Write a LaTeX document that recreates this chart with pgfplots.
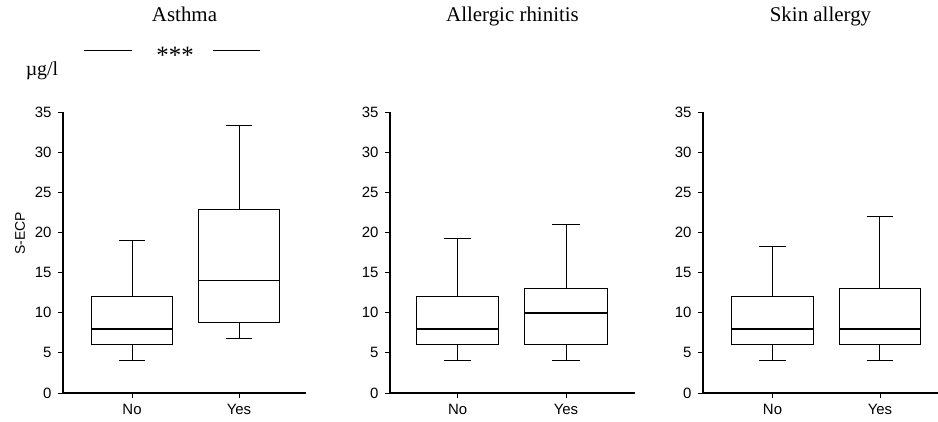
\documentclass[border=0pt]{standalone}
\usepackage{fontspec}
\setmainfont{Liberation Serif}
\setsansfont{Liberation Sans}
\usepackage{pgfplots}
\pgfplotsset{compat=1.18}
\usepgfplotslibrary{statistics}

\pgfplotsset{
  panel/.style={
    scale only axis, height=281bp, ymin=0, ymax=35, ytick={0,5,...,35},
    xtick={0,1}, xticklabels={No,Yes},
    axis x line*=bottom, axis y line*=left,
    axis line style={line width=1.1bp, -},
    tick align=outside, major tick length=5bp,
    tick style={line width=0.9bp, black},
    tick label style={font=\sffamily\fontsize{15}{15}\selectfont},
    yticklabel style={xshift=-3bp},
    xticklabel style={yshift=-3bp},
    /pgf/number format/assume math mode=true,
    clip=false,
    anchor=south west,
    title style={anchor=base, at={(0.5,1)}, yshift=85bp, font=\rmfamily\fontsize{21}{21}\selectfont},
    boxplot/draw direction=y,
    boxplot/box extend=0.76,
    boxplot/whisker extend=0.25,
  },
  bx/.style={black, solid, line width=1bp, mark=none,
    boxplot/every median/.style={line width=1.8bp}},
}

\begin{document}
\begin{tikzpicture}
\useasboundingbox (0,0) rectangle (938bp,422bp);

% Panel 1: Asthma
\begin{axis}[panel, at={(63bp,29bp)}, width=243bp, xmin=-0.645, xmax=1.626, title={Asthma}]
\addplot[bx, boxplot prepared={draw position=0, lower whisker=4, lower quartile=6, median=8, upper quartile=12, upper whisker=19}] coordinates {};
\addplot[bx, boxplot prepared={draw position=1, lower whisker=6.8, lower quartile=8.8, median=14.0, upper quartile=22.8, upper whisker=33.3}] coordinates {};
\draw[line width=1bp] (axis cs:-0.449,42.63) -- (axis cs:0,42.63);
\draw[line width=1bp] (axis cs:0.757,42.63) -- (axis cs:1.196,42.63);
\node[anchor=base, font=\rmfamily\fontsize{25}{25}\selectfont] at (axis cs:0.402,41.0) {***};
\node[anchor=base, font=\rmfamily\fontsize{20}{20}\selectfont] at (axis cs:-0.841,39.5) {µg/l};
\node[rotate=90, font=\sffamily\fontsize{14}{14}\selectfont] at (axis cs:-1.047,19.9) {S-ECP};
\end{axis}

% Panel 2: Allergic rhinitis
\begin{axis}[panel, at={(390bp,29bp)}, width=245bp, xmin=-0.625, xmax=1.637, title={Allergic rhinitis}]
\addplot[bx, boxplot prepared={draw position=0, lower whisker=4, lower quartile=6, median=8, upper quartile=12, upper whisker=19.3}] coordinates {};
\addplot[bx, boxplot prepared={draw position=1, lower whisker=4, lower quartile=6, median=10, upper quartile=13, upper whisker=21}] coordinates {};
\end{axis}

% Panel 3: Skin allergy
\begin{axis}[panel, at={(703bp,29bp)}, width=235bp, xmin=-0.647, xmax=1.54, title={Skin allergy}]
\addplot[bx, boxplot prepared={draw position=0, lower whisker=4, lower quartile=6, median=8, upper quartile=12, upper whisker=18.3}] coordinates {};
\addplot[bx, boxplot prepared={draw position=1, lower whisker=4, lower quartile=6, median=8, upper quartile=13, upper whisker=22}] coordinates {};
\end{axis}
\end{tikzpicture}
\end{document}
